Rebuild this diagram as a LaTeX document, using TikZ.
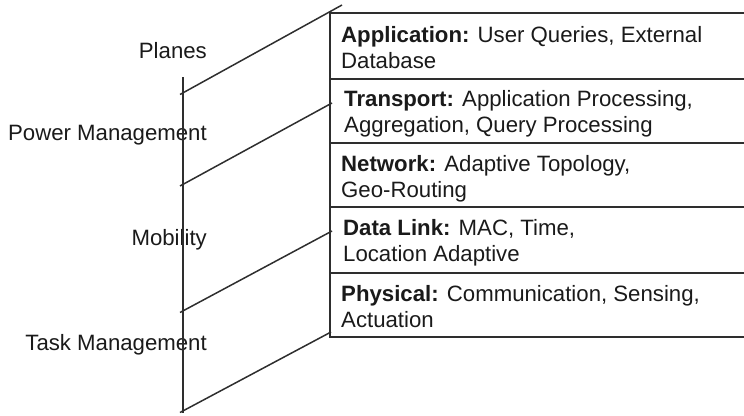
\documentclass[tikz,border=0pt]{standalone}
\usepackage{fontspec}
\setmainfont{Liberation Sans}
\definecolor{linegray}{HTML}{2E2E2E}
\definecolor{textcol}{HTML}{1A1A1A}
\begin{document}
\begin{tikzpicture}[x=1pt,y=-1pt,
  layerbox/.style={draw=linegray, line width=1.6pt, rectangle, minimum width=440pt, anchor=north west, inner sep=0pt},
  rowtext/.style={anchor=base west, align=left, inner sep=0pt, text=textcol, font=\fontsize{22.2}{26.5}\selectfont},
  sidetext/.style={anchor=base east, inner sep=0pt, text=textcol, font=\fontsize{22.2}{26.5}\selectfont},
  conn/.style={draw=linegray, line width=1.5pt}]
\useasboundingbox (0,0) rectangle (744,415);
\begin{scope}
\clip (0,0) rectangle (744,415);
% layer boxes
\node[layerbox, minimum height=66pt] (r1) at (329,12) {};
\node[layerbox, minimum height=64pt] (r2) at (329,78) {};
\node[layerbox, minimum height=64pt] (r3) at (329,142) {};
\node[layerbox, minimum height=66pt] (r4) at (329,206) {};
\node[layerbox, minimum height=64pt] (r5) at (329,272) {};
\end{scope}
% layer texts (anchor = baseline of the last line)
\node[rowtext] (t1) at (341,68.5) {\textbf{Application:} User Queries, External\\Database};
\node[rowtext] (t2) at (344,132.5) {\textbf{Transport:} Application Processing,\\Aggregation, Query Processing};
\node[rowtext] (t3) at (341,197.5) {\textbf{Network:} Adaptive Topology,\\Geo-Routing};
\node[rowtext] (t4) at (343,261.5) {\textbf{Data Link:} MAC, Time,\\Location Adaptive};
\node[rowtext] (t5) at (341,327.5) {\textbf{Physical:} Communication, Sensing,\\Actuation};
% side labels
\node[sidetext] (planes) at (207,58) {Planes};
\node[sidetext] (power) at (207,140) {Power Management};
\node[sidetext] (mobility) at (207,245) {Mobility};
\node[sidetext] (task) at (207,350) {Task Management};
% vertical axis
\coordinate (vtop) at (183,77);
\coordinate (vbot) at (183,413);
\draw[conn] (vtop) -- (vbot);
% diagonal separators
\coordinate (d1a) at (180,94.5);
\coordinate (d1b) at (342,5);
\coordinate (d2a) at (180,186);
\coordinate (d2b) at (332,103);
\coordinate (d3a) at (180,312.5);
\coordinate (d3b) at (332,231);
\coordinate (d4a) at (180,412.5);
\coordinate (d4b) at (331,332);
\draw[conn] (d1a) -- (d1b);
\draw[conn] (d2a) -- (d2b);
\draw[conn] (d3a) -- (d3b);
\draw[conn] (d4a) -- (d4b);
\end{tikzpicture}
\end{document}
